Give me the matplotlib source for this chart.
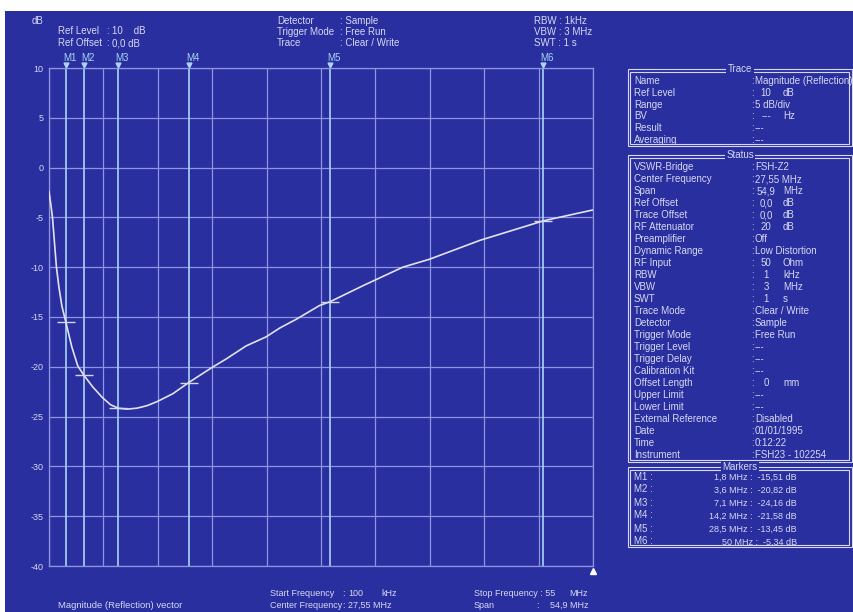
import numpy as np
import matplotlib.pyplot as plt
from matplotlib.patches import Rectangle

plt.rcParams['font.family'] = ['Liberation Sans', 'DejaVu Sans']

# measured return loss trace (MHz, dB)
trace_mhz = [0.1, 0.3, 0.45, 0.65, 0.85, 1.1, 1.4, 1.8, 2.4, 3.0, 3.6, 4.5, 5.5,
             6.3, 7.1, 8.0, 9.0, 10.0, 11.0, 12.6, 14.2, 16.5, 18.0, 20.0, 22.0,
             23.4, 25.1, 27.4, 28.5, 31.8, 35.8, 38.5, 43.6, 50.0, 55.0]
trace_db = [-2.4, -3.8, -5.0, -7.5, -10.0, -12.0, -13.9, -15.51, -18.0, -19.9,
            -20.82, -22.0, -23.1, -23.8, -24.16, -24.25, -24.15, -23.9, -23.5,
            -22.7, -21.58, -20.1, -19.2, -17.9, -17.0, -16.1, -15.2, -13.85,
            -13.45, -11.85, -10.0, -9.2, -7.3, -5.34, -4.25]

marker_names = ["M1", "M2", "M3", "M4", "M5", "M6"]
marker_mhz = [1.8, 3.6, 7.1, 14.2, 28.5, 50.0]
marker_db = [-15.51, -20.82, -24.16, -21.58, -13.45, -5.34]

y_ticks = [10, 5, 0, -5, -10, -15, -20, -25, -30, -35, -40]
y_ticklabels = ["10", "5", "0", "-5", "-10", "-15", "-20", "-25", "-30", "-35", "-40"]

trace_labels = ["Name", "Ref Level", "Range", "BV", "Result", "Averaging"]
trace_values = ["Magnitude (Reflection)", "10", "5 dB/div", "---", "---", "---"]
trace_units = ["", "dB", "", "Hz", "", ""]

status_labels = ["VSWR-Bridge", "Center Frequency", "Span", "Ref Offset", "Trace Offset",
                 "RF Attenuator", "Preamplifier", "Dynamic Range", "RF Input", "RBW",
                 "VBW", "SWT", "Trace Mode", "Detector", "Trigger Mode", "Trigger Level",
                 "Trigger Delay", "Calibration Kit", "Offset Length", "Upper Limit",
                 "Lower Limit", "External Reference", "Date", "Time", "Instrument"]
status_values = ["FSH-Z2", "27,55 MHz", "54,9", "0,0", "0,0", "20", "Off",
                 "Low Distortion", "50", "1", "3", "1", "Clear / Write", "Sample",
                 "Free Run", "---", "---", "---", "0", "---", "---", "Disabled",
                 "01/01/1995", "0:12:22", "FSH23 - 102254"]
status_units = ["", "", "MHz", "dB", "dB", "dB", "", "", "Ohm", "kHz", "MHz", "s",
                "", "", "", "", "", "", "mm", "", "", "", "", "", ""]

BLUE = '#2a2fa0'
FG = '#d6d8f0'
GRID = '#8e94e2'
MARK = '#a8d6f4'
W, H = 854, 612

fig = plt.figure(figsize=(W / 100, H / 100), dpi=100)
fig.patch.set_facecolor('white')

# full-figure layer in pixel units for the screen background and text
bg = fig.add_axes([0, 0, 1, 1])
bg.set_xlim(0, W)
bg.set_ylim(H, 0)
bg.axis('off')
bg.add_patch(Rectangle((5, 11), W, H, facecolor=BLUE, edgecolor='none'))


def label(x, y, s, **kw):
    # y is the middle of the cap height, text sits on a common baseline
    kw.setdefault('fontsize', 7)
    kw.setdefault('color', FG)
    bg.text(x, y + 3.5, s, va='baseline', **kw)


# header
label(32, 20, "dB")
label(58, 31, "Ref Level")
label(106, 31, ":")
label(112, 31, "10    dB")
label(58, 43, "Ref Offset")
label(106, 43, ":")
label(112, 43, "0,0 dB")
for i, (k, v) in enumerate([("Detector", "Sample"), ("Trigger Mode", "Free Run"),
                            ("Trace", "Clear / Write")]):
    label(277, 20 + 11.5 * i, k)
    label(340, 20 + 11.5 * i, ": " + v)
for i, s in enumerate(["RBW : 1kHz", "VBW : 3 MHz", "SWT : 1 s"]):
    label(534, 20 + 11.5 * i, s)

# footer
label(58, 604, "Magnitude (Reflection) vector", fontsize=6.8)
label(270, 593, "Start Frequency", fontsize=6.5)
label(342, 593, ":", fontsize=6.5)
label(348, 593, "100", fontsize=6.5)
label(381, 593, "kHz", fontsize=6.5)
label(270, 604, "Center Frequency", fontsize=6.5)
label(342, 604, ":", fontsize=6.5)
label(348, 604, "27,55 MHz", fontsize=6.5)
label(474, 593, "Stop Frequency : 55", fontsize=6.5)
label(569, 593, "MHz", fontsize=6.5)
label(474, 604, "Span", fontsize=6.5)
label(536, 604, ":", fontsize=6.5)
label(550, 604, "54,9 MHz", fontsize=6.5)


def panel_box(top, bottom, title):
    for d in (0, 2.5):
        bg.add_patch(Rectangle((628 + d, top + d), 224 - 2 * d, bottom - top - 2 * d,
                               fill=False, edgecolor=FG, lw=0.8))
    bg.text(740, top, title, ha='center', va='center', fontsize=7, color=FG,
            bbox=dict(facecolor=BLUE, edgecolor='none', pad=1.0))


def panel_rows(y0, step, names, values, units):
    for i, (n, v, u) in enumerate(zip(names, values, units)):
        y = y0 + step * i
        label(634, y, n)
        label(751, y, ":")
        if u:
            label(766, y, v, ha='center')
            label(783, y, u)
        else:
            label(755, y, v)


panel_box(69, 146, "Trace")
panel_rows(80.5, 11.8, trace_labels, trace_values, trace_units)
panel_box(155, 462, "Status")
panel_rows(166.5, 12.0, status_labels, status_values, status_units)
panel_box(467, 547, "Markers")
for i, (n, f, d) in enumerate(zip(marker_names, marker_mhz, marker_db)):
    y = 476 + 13 * i
    label(634, y, n + " :")
    freq = f"{f:g}".replace('.', ',')
    level = f"{d:.2f}".replace('.', ',')
    label(797, y, f"{freq} MHz :  {level} dB", ha='right', fontsize=6.5)

# measurement diagram
ax = fig.add_axes([49 / W, 1 - 566 / H, 544 / W, 498 / H])
ax.set_facecolor('none')
ax.set_xlim(0.1, 55)
ax.set_ylim(-40, 10)
ax.set_xticks(np.linspace(0.1, 55, 11))
ax.set_yticks(y_ticks)
ax.set_yticklabels(y_ticklabels)
ax.tick_params(length=0, labelbottom=False, labelsize=6.5, labelcolor=FG, pad=4)
ax.grid(True, color=GRID, lw=0.9)
for sp in ax.spines.values():
    sp.set_color(GRID)
    sp.set_linewidth(0.9)

for n, f, d in zip(marker_names, marker_mhz, marker_db):
    ax.axvline(f, color=MARK, lw=1.2, zorder=2)
    ax.plot(f, 10.3, marker='v', ms=3.5, color=MARK, clip_on=False, zorder=4)
    ax.annotate(n, (f, 10), xytext=(-2, 3.5), textcoords='offset points',
                color=MARK, fontsize=7, va='bottom', ha='left', annotation_clip=False)
    ax.plot(f, d, marker='_', ms=13, mew=1.0, color=FG, zorder=4)

ax.plot(trace_mhz, trace_db, color='#e2e2ee', lw=1.2, zorder=3)
ax.plot(55, -40.5, marker='^', ms=5, color='white', clip_on=False, zorder=4)

fig.savefig('out.png', dpi=100, facecolor=fig.get_facecolor())
